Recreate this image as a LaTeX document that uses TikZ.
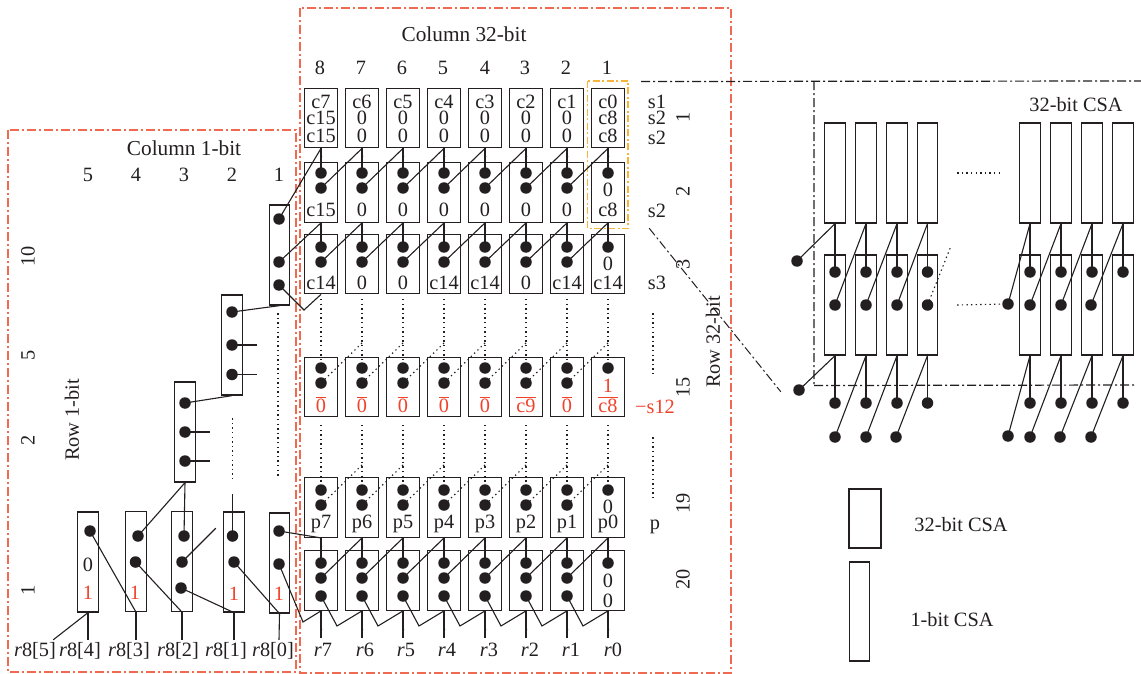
\documentclass[tikz,border=0pt]{standalone}
\usepackage{fontspec}
\setmainfont{Liberation Serif}
\definecolor{ink}{HTML}{231F20}
\definecolor{redbox}{HTML}{F06A52}
\definecolor{redtxt}{HTML}{F0432B}
\definecolor{orangebox}{HTML}{F6B53A}
\tikzset{
  every node/.style={text=ink,font=\fontsize{20.3}{20}\selectfont},
  cellbox/.style={draw=ink,line width=1.3pt,minimum width=33pt,minimum height=59.5pt,inner sep=0pt},
  bitbox/.style={draw=ink,line width=1.3pt,minimum width=20.5pt,minimum height=100pt,inner sep=0pt},
  blob/.style={circle,fill=ink,inner sep=0pt,minimum size=11.5pt},
  lbl/.style={inner sep=0pt},
  redlbl/.style={inner sep=0pt,text=redtxt},
  rowlbl/.style={inner sep=0pt,rotate=90},
  wire/.style={draw=ink,line width=1.1pt},
  dotwire/.style={draw=ink,line width=1.1pt,dash pattern=on 1.4pt off 3.2pt},
  redframe/.style={draw=redbox,line width=1.5pt,dash pattern=on 9pt off 3pt on 2pt off 3pt},
  orangeframe/.style={draw=orangebox,line width=1.2pt,dash pattern=on 7pt off 2.5pt on 2pt off 2.5pt},
  blackframe/.style={draw=ink,line width=1.2pt,dash pattern=on 9pt off 3pt on 2pt off 3pt},
  pt/.style={inner sep=0pt,minimum size=0pt},
}
\newcommand{\ovl}[1]{\ensuremath{\overline{\mbox{#1}}}}
% vertical wire with a tiny tick on it
\newcommand{\tickwire}[3]{\draw[wire] (#1) -- coordinate[pos=#3] (tk) (#2);\draw[wire,line width=.8pt] ([shift={(-.6,-1.2)}]tk) -- ([shift={(1,1.2)}]tk);}
\begin{document}
\begin{tikzpicture}[x=1pt,y=-1pt]
\useasboundingbox (0,0) rectangle (1141,674);
% frames
\node[pt] (fa) at (8,130) {};
\node[pt] (fb) at (296,672) {};
\draw[redframe] (fa) rectangle (fb);
\node[pt] (fc) at (300,8) {};
\node[pt] (fd) at (731,673) {};
\draw[redframe] (fc) rectangle (fd);
\node[pt] (fe) at (587.5,81) {};
\node[pt] (ff) at (628,228.5) {};
\draw[orangeframe] (fe) rectangle (ff);
% headings
\node[lbl,font=\fontsize{21.3}{20}\selectfont] (h32) at (464,34) {Column 32-bit};
\node[lbl,font=\fontsize{21.3}{20}\selectfont] (h1) at (184,148) {Column 1-bit};
\foreach \c/\x in {8/320,7/361,6/402,5/443,4/485,3/525,2/566,1/607}{
  \node[lbl] (top\c) at (\x,68) {\c};
}
\foreach \c/\x in {5/88,4/136,3/184,2/232,1/279}{
  \node[lbl] (toq\c) at (\x,175) {\c};
}
% 32-bit array
\foreach \c/\x in {8/321,7/362,6/403,5/444,4/485,3/526,2/567,1/608}{
  \node[cellbox] (ra\c) at (\x,118) {};
  \node[cellbox] (rb\c) at (\x,192.5) {};
  \node[cellbox] (rc\c) at (\x,264) {};
  \node[cellbox] (rd\c) at (\x,387) {};
  \node[cellbox] (re\c) at (\x,507.5) {};
  \node[cellbox] (rf\c) at (\x,580.5) {};
  \node[blob] (bb\c) at (\x,173) {};
  \node[blob] (cc\c) at (\x,247) {};
  \node[blob] (dd\c) at (\x,368) {};
  \node[blob] (ee\c) at (\x,490) {};
  \node[blob] (ff\c) at (\x,563) {};
  \node[pt] (rout\c) at (\x,638) {};
  \node[pt] (dtop\c) at (\x,299) {};
  \node[pt] (dpk\c) at (\x,343) {};
  \node[pt] (etop\c) at (\x,425) {};
  \node[pt] (epk\c) at (\x,465) {};
  \node[pt] (zz\c) at (\x+16,626) {};
  \tickwire{ra\c.south}{bb\c.center}{.3}
  \tickwire{rb\c.south}{cc\c.center}{.3}
  \tickwire{re\c.south}{ff\c.center}{.3}
  \tickwire{rf\c.south}{rout\c.center}{.65}
  \draw[dotwire] (dtop\c.center) -- (dd\c.center);
  \draw[dotwire] (etop\c.center) -- (ee\c.center);
}
\foreach \c/\x in {8/321,7/362,6/403,5/444,4/485,3/526,2/567}{
  \node[blob] (bx\c) at (\x,188) {};
  \node[blob] (cx\c) at (\x,262) {};
  \node[blob] (dx\c) at (\x,383) {};
  \node[blob] (ex\c) at (\x,505) {};
  \node[blob] (fx\c) at (\x,578) {};
  \node[blob] (fz\c) at (\x,596) {};
}
\foreach \c/\l in {7/8,6/7,5/6,4/5,3/4,2/3,1/2}{
  \draw[wire] (ra\c.south) -- (bx\l.center);
  \draw[wire] (rb\c.south) -- (cx\l.center);
  \draw[wire] (re\c.south) -- (fx\l.center);
  \draw[dotwire] (dpk\c.center) -- (dx\l.center);
  \draw[dotwire] (epk\c.center) -- (ex\l.center);
  \draw[wire] (fz\l.center) -- (zz\l.center) -- (rf\c.south);
}
% cell texts
\foreach \c/\x/\t/\u/\v in {8/321/c7/c15/c15,7/362/c6/0/0,6/403/c5/0/0,5/444/c4/0/0,4/485/c3/0/0,3/526/c2/0/0,2/567/c1/0/0,1/608/c0/c8/c8}{
  \node[lbl] (ta\c) at (\x,102) {\t};
  \node[lbl] (tb\c) at (\x,117.5) {\u};
  \node[lbl] (tc\c) at (\x,136) {\v};
}
\foreach \c/\x/\t in {8/321/c15,7/362/0,6/403/0,5/444/0,4/485/0,3/526/0,2/567/0,1/608/c8}{
  \node[lbl] (td\c) at (\x,210) {\t};
}
\foreach \c/\x/\t in {8/321/c14,7/362/0,6/403/0,5/444/c14,4/485/c14,3/526/0,2/567/c14,1/608/c14}{
  \node[lbl] (te\c) at (\x,283) {\t};
}
\foreach \c/\x/\t in {8/321/0,7/362/0,6/403/0,5/444/0,4/485/0,3/526/c9,2/567/0,1/608/c8}{
  \node[redlbl] (tf\c) at (\x,404.5) {\ovl{\t}};
}
\foreach \c/\x/\t in {8/321/p7,7/362/p6,6/403/p5,5/444/p4,4/485/p3,3/526/p2,2/567/p1,1/608/p0}{
  \node[lbl] (tg\c) at (\x,524) {\t};
}
\node[lbl] (z1) at (608,190) {0};
\node[lbl] (z2) at (608,264) {0};
\node[redlbl] (z3) at (608,386) {1};
\node[lbl] (z4) at (608,507) {0};
\node[lbl] (z5) at (608,581) {0};
\node[lbl] (z6) at (608,601) {0};
\foreach \c/\x in {7/323,6/365,5/406,4/447,3/489,2/530,1/571,0/613}{
  \node[lbl] (rl\c) at (\x,650) {\textit{r}\c};
}
% right side labels
\node[lbl] (s1) at (657,102) {s1};
\node[lbl] (s2a) at (657,118) {s2};
\node[lbl] (s2b) at (657,138) {s2};
\node[lbl] (s2c) at (657,211) {s2};
\node[lbl] (s3) at (657,283) {s3};
\node[redlbl] (s12) at (655,407) {−s12};
\node[lbl] (pp) at (655,527) {p};
\node[rowlbl] (n1) at (683,117) {1};
\node[rowlbl] (n2) at (683,191) {2};
\node[rowlbl] (n3) at (683,264) {3};
\node[rowlbl] (n15) at (683,387) {15};
\node[rowlbl] (n19) at (683,503) {19};
\node[rowlbl] (n20) at (683,579) {20};
\node[rowlbl] (rowb) at (713,342) {Row 32-bit};
\node[pt] (da) at (653,313) {};
\node[pt] (db) at (653,375) {};
\node[pt] (dc) at (653,437) {};
\node[pt] (dd) at (653,498) {};
\draw[dotwire] (da) -- (db);
\draw[dotwire] (dc) -- (dd);
% 1-bit array
\node[bitbox] (q1) at (279.5,255) {};
\node[bitbox] (q2) at (232,345) {};
\node[bitbox] (q3) at (185,432) {};
\node[bitbox] (w5) at (88,562) {};
\node[bitbox] (w4) at (136,561.5) {};
\node[bitbox] (w3) at (182,561.5) {};
\node[bitbox] (w2) at (234,562) {};
\node[bitbox] (w1) at (279.5,563) {};
\node[blob] (q1a) at (279,219) {};
\node[blob] (q1b) at (279,262) {};
\node[blob] (q1c) at (279,285) {};
\node[blob] (q2a) at (232,312) {};
\node[blob] (q2b) at (232,345) {};
\node[blob] (q2c) at (232,374.5) {};
\node[blob] (q3a) at (185,403) {};
\node[blob] (q3b) at (185,432) {};
\node[blob] (q3c) at (185,461) {};
\node[blob] (w5a) at (90,531) {};
\node[blob] (w4a) at (138,536) {};
\node[blob] (w4b) at (135.5,562) {};
\node[blob] (w3a) at (184,536) {};
\node[blob] (w3b) at (182,562) {};
\node[blob] (w3c) at (181,588) {};
\node[blob] (w2a) at (232.5,536) {};
\node[blob] (w2b) at (234,562) {};
\node[blob] (w1a) at (279,531) {};
\node[blob] (w1b) at (279,564) {};
\node[lbl] (w5z) at (88,565) {0};
\node[redlbl] (w5o) at (88,593) {1};
\node[redlbl] (w4o) at (135,593) {1};
\node[redlbl] (w2o) at (234,594) {1};
\node[redlbl] (w1o) at (279,594) {1};
% 1-bit stubs and joints
\node[pt] (j1) at (304,310) {};
\node[pt] (j2) at (303,622) {};
\node[pt] (st1) at (257,345) {};
\node[pt] (st2) at (257,374.5) {};
\node[pt] (st3) at (210,432) {};
\node[pt] (st4) at (210,461) {};
\node[pt] (st5) at (216,528) {};
\node[pt] (st6) at (232.5,494) {};
\node[pt] (dv1) at (232.5,418) {};
\node[pt] (dv2) at (232.5,482) {};
\node[pt] (dv3) at (278,313) {};
\node[pt] (dv4) at (278,477) {};
\draw[dotwire] (dv1) -- (dv2);
\draw[dotwire] (dv3) -- (dv4);
\draw[wire] (ra8.south) -- (q1a.center);
\draw[wire] (rb8.south) -- (q1b.center);
\draw[wire] (rc8.south) -- (j1.center) -- (q1c.center);
\draw[wire] (q1.south) -- (q2a.center);
\draw[wire] (q2b.center) -- (st1);
\draw[wire] (q2c.center) -- (st2);
\draw[wire] (q2.south) -- (q3a.center);
\draw[wire] (q3b.center) -- (st3);
\draw[wire] (q3c.center) -- (st4);
\draw[wire] (q3.south) -- (w4a.center);
\draw[wire] (q3.south) -- (w3a.center);
\draw[wire] (w3b.center) -- (st5);
\draw[wire] (st6) -- (w2a.center);
\draw[wire] (w5a.center) -- (w4.south);
\draw[wire] (w4b.center) -- (w3.south);
\draw[wire] (w3c.center) -- (w2.south);
\draw[wire] (w2b.center) -- (w1.south);
\draw[wire] (w1a.center) -- (re8.south);
\draw[wire] (w1b.center) -- (j2.center) -- (rf8.south);
\foreach \n/\x in {5/35,4/80,3/129,2/178,1/226,0/273}{
  \node[lbl] (rq\n) at (\x,651) {\textit{r}8[\n]};
}
\foreach \b/\x in {w5/88,w4/136,w3/182,w2/234,w1/279}{
  \node[pt] (out\b) at (\x,640) {};
  \draw[wire] (\b.south) -- (out\b);
}
\node[pt] (outx) at (53,640) {};
\draw[wire] (w5.south) -- (outx);
% row labels of the 1-bit part
\node[rowlbl] (m10) at (28,256) {10};
\node[rowlbl] (m5) at (28,355) {5};
\node[rowlbl] (m2) at (28,440) {2};
\node[rowlbl] (m1) at (28,590) {1};
\node[rowlbl] (rowa) at (72,420) {Row 1-bit};
% zoom frame
\node[pt] (ka) at (641,81.5) {};
\node[pt] (kb) at (1141,81) {};
\node[pt] (kc) at (814,81) {};
\node[pt] (kd) at (814,385.5) {};
\node[pt] (ke) at (1137,385) {};
\node[pt] (kf) at (649,228) {};
\node[pt] (kg) at (781,392) {};
\draw[blackframe] (ka) -- (kb);
\draw[blackframe] (kc) -- (kd) -- (ke);
\draw[blackframe,line width=1pt] (kf) -- (kg);
\node[lbl] (csa) at (1076,105) {32-bit CSA};
% zoomed CSAs
\foreach \i/\x in {1/835,2/866,3/897,4/927.5,5/1030,6/1061,7/1092,8/1123}{
  \node[bitbox] (ua\i) at (\x,173) {};
  \node[bitbox] (ub\i) at (\x,305) {};
  \node[blob] (ma\i) at (\x,272) {};
  \node[blob] (mc\i) at (\x,403) {};
  \draw[wire] (ua\i.south) -- (ma\i.center);
  \draw[wire] (ub\i.south) -- (mc\i.center);
}
\foreach \i/\x in {1/835,2/866,3/897,4/927.5,5/1030,6/1061,7/1091}{
  \node[blob] (mb\i) at (\x,305) {};
}
\foreach \i/\x in {1/835,2/866,3/896,5/1030,6/1060,7/1091}{
  \node[blob] (md\i) at (\x,437) {};
}
\node[blob] (le1) at (797,261) {};
\node[blob] (le2) at (799,390) {};
\node[blob] (le3) at (1008,304) {};
\node[blob] (le4) at (1008,436) {};
\draw[wire] (ua1.south) -- (le1.center);
\draw[wire] (ub1.south) -- (le2.center);
\draw[wire] (ua5.south) -- (le3.center);
\draw[wire] (ub5.south) -- (le4.center);
\foreach \a/\b in {2/1,3/2,4/3,6/5,7/6,8/7}{
  \draw[wire] (ua\a.south) -- (mb\b.center);
  \draw[wire] (ub\a.south) -- (md\b.center);
}
\node[pt] (o1) at (957,173) {};
\node[pt] (o2) at (1000,173) {};
\node[pt] (o3) at (957,305) {};
\node[pt] (o4) at (951,246) {};
\draw[dotwire] (o1) -- (o2);
\draw[dotwire] (o3) -- (le3.center);
\draw[dotwire] (mb4.center) -- (o4);
% legend
\node[draw=ink,line width=1.3pt,minimum width=32pt,minimum height=59pt,inner sep=0pt] (lg1) at (865,518.5) {};
\node[draw=ink,line width=1.3pt,minimum width=19.5pt,minimum height=99pt,inner sep=0pt] (lg2) at (859.5,611.5) {};
\node[lbl] (lt1) at (961,525) {32-bit CSA};
\node[lbl] (lt2) at (952,620) {1-bit CSA};
\end{tikzpicture}
\end{document}
